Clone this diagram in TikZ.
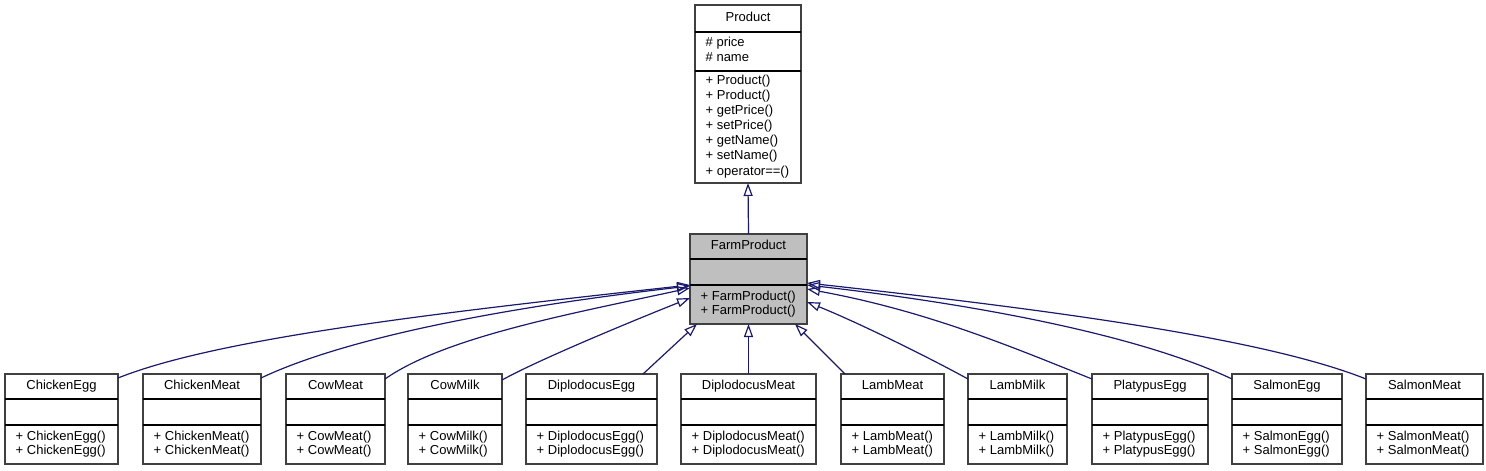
\documentclass[tikz,border=0pt]{standalone}
\usepackage{fontspec}
\setmainfont{Liberation Sans}
\usetikzlibrary{arrows.meta}
\definecolor{edgeblue}{HTML}{191970}
\definecolor{boxline}{HTML}{404040}
\definecolor{fpfill}{HTML}{BFBFBF}
\tikzset{
  cls/.style={draw=boxline, line width=1.4pt, fill=white, inner sep=0pt, outer sep=0pt},
  sepline/.style={draw=black, line width=1.2pt},
  txt/.style={font=\fontsize{13}{15}\selectfont, inner sep=0pt, text height=9.5pt, text depth=2.6pt},
  edge/.style={draw=edgeblue, line width=1.2pt, -{Triangle[open, length=13pt, width=9pt, line width=1.2pt]}},
}
\begin{document}
\begin{tikzpicture}[x=1pt, y=-1pt]
\useasboundingbox (0,0) rectangle (1486,471);
% Product
\node[cls, minimum width=106pt, minimum height=178pt] (p) at (748,94) {};
\draw[sepline] (695,32) -- (801,32) (695,71) -- (801,71);
\node[txt] (p-t) at (748,18.5) {Product};
\node[txt, anchor=west] (p-a1) at (705.5,43.5) {\# price};
\node[txt, anchor=west] (p-a2) at (705.5,58) {\# name};
\foreach \i/\m in {0/Product(), 1/Product(), 2/getPrice(), 3/setPrice(), 4/getName(), 5/setName(), 6/operator==()}{
  \node[txt, anchor=west] (p-m\i) at (705.5,{81+15.1*\i}) {+ \m};
}
% FarmProduct
\node[cls, fill=fpfill, minimum width=117pt, minimum height=90pt] (fp) at (748.5,279) {};
\draw[sepline] (690,259) -- (807,259) (690,285) -- (807,285);
\node[txt] (fp-t) at (748.5,246.5) {FarmProduct};
\node[txt, anchor=west] (fp-m1) at (700.5,297) {+ FarmProduct()};
\node[txt, anchor=west] (fp-m2) at (700.5,311.5) {+ FarmProduct()};
% children
\foreach \n/\l/\r/\t in {ce/5/118/ChickenEgg, cm/143/261/ChickenMeat, cw/286/385/CowMeat, ck/408/502/CowMilk, de/526/657/DiplodocusEgg, dm/681/816/DiplodocusMeat, lme/841/944/LambMeat, lmk/968/1067/LambMilk, pe/1092/1208/PlatypusEgg, se/1232/1342/SalmonEgg, sm/1366/1483/SalmonMeat}{
  \pgfmathsetmacro\cx{(\l+\r)/2}
  \pgfmathsetmacro\w{\r-\l}
  \node[cls, minimum width=\w pt, minimum height=90pt] (\n) at (\cx,419) {};
  \draw[sepline] (\l,399) -- (\r,399) (\l,425) -- (\r,425);
  \node[txt] (\n-t) at (\cx,386.5) {\t};
  \node[txt, anchor=west] (\n-a) at (\l+10.5,437) {+ \t()};
  \node[txt, anchor=west] (\n-b) at (\l+10.5,451.5) {+ \t()};
}
% edges
\draw[edge] (fp.north) -- (p.south);
\draw[edge] ([yshift=-4pt]ce.north east) .. controls +(100,-40) and +(-250,27.5) .. ([yshift=-6pt]fp.west);
\draw[edge] ([yshift=-4pt]cm.north east) .. controls +(80,-38) and +(-200,23) .. ([yshift=-7pt]fp.west);
\draw[edge] ([yshift=-5pt]cw.north east) .. controls +(60,-42) and +(-120,26) .. ([yshift=-9pt]fp.west);
\draw[edge] ([yshift=-6pt]ck.north east) .. controls +(40,-22) and +(-50,20) .. ([yshift=-19pt]fp.west);
\draw[edge] ([xshift=-14pt]de.north east) -- ([xshift=7pt]fp.south west);
\draw[edge] (dm.north) -- (fp.south);
\draw[edge] ([xshift=4pt]lme.north west) -- ([xshift=-12pt]fp.south east);
\draw[edge] ([yshift=-5pt]lmk.north west) .. controls +(-40,-22) and +(50,20) .. ([yshift=-23pt]fp.east);
\draw[edge] ([yshift=-5pt]pe.north west) .. controls +(-80,-32) and +(120,22) .. ([yshift=-10pt]fp.east);
\draw[edge] ([yshift=-5pt]se.north west) .. controls +(-80,-38) and +(200,23) .. ([yshift=-6pt]fp.east);
\draw[edge] ([yshift=-5pt]sm.north west) .. controls +(-100,-40) and +(250,27.5) .. ([yshift=-4pt]fp.east);
\end{tikzpicture}
\end{document}
